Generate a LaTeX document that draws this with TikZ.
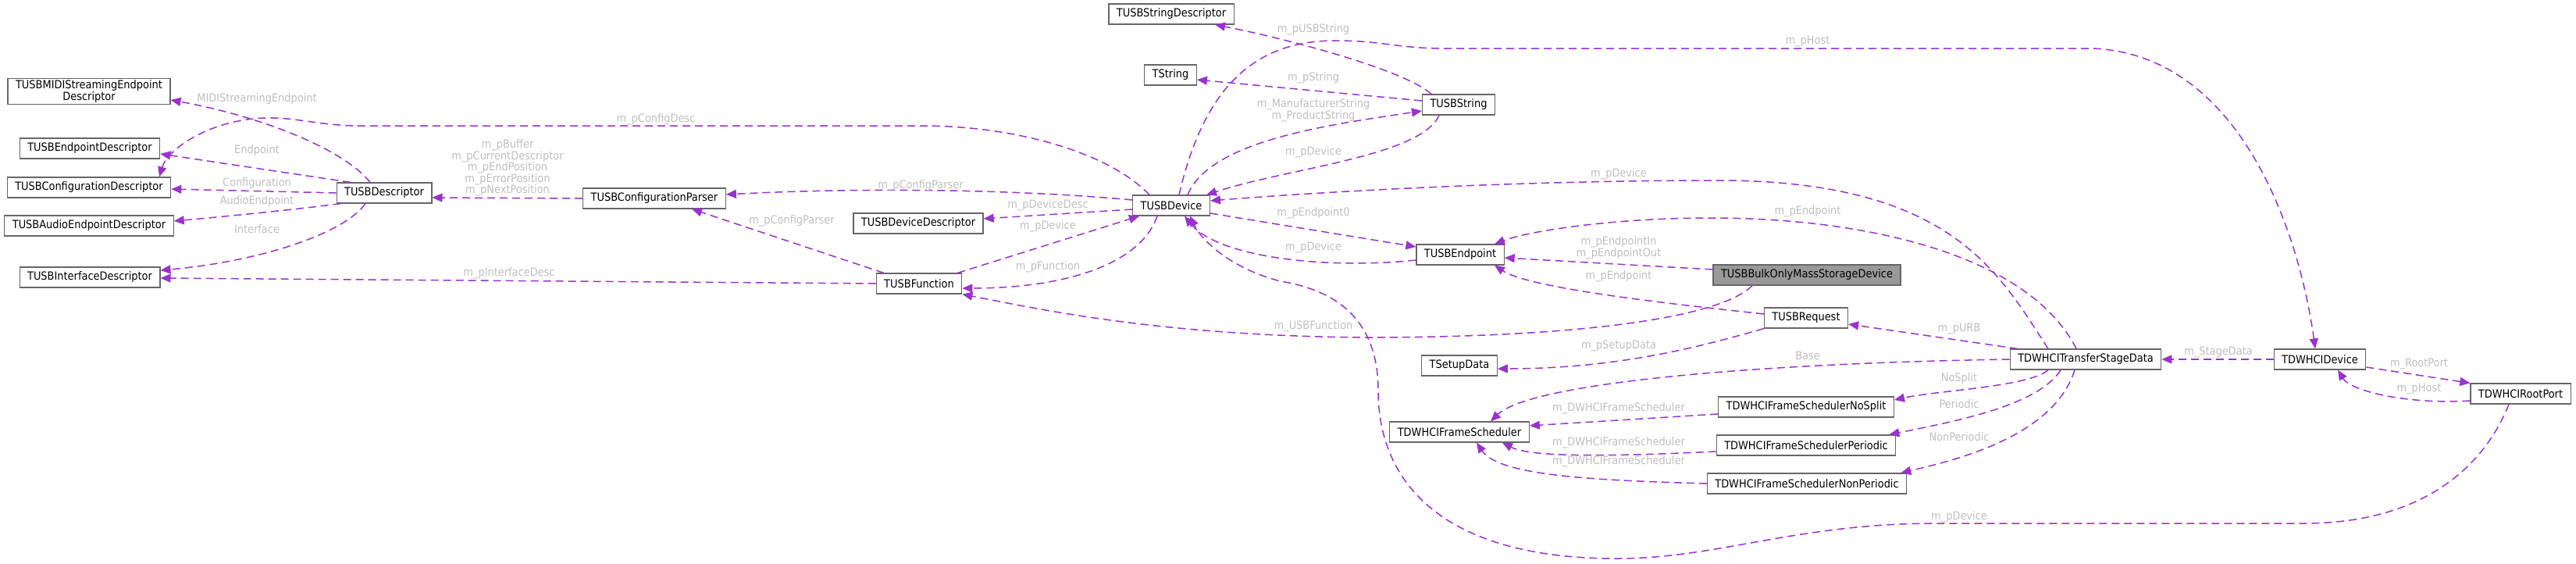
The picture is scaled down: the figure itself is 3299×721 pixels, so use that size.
\documentclass[tikz,border=0pt]{standalone}
\usepackage{fontspec}
\setmainfont{DejaVu Sans Condensed}
\usetikzlibrary{arrows.meta}
\definecolor{corchid}{HTML}{9A32CD}
\definecolor{cgrey}{HTML}{666666}
\definecolor{clabel}{HTML}{BEBEBE}
\definecolor{cfill}{HTML}{999999}
\tikzset{
  every picture/.style={font=\fontsize{14.4}{14.6}\selectfont},
  box/.style={draw=cgrey, fill=white, line width=1.2pt, align=center, inner xsep=10pt, inner ysep=2pt, minimum height=26pt},
  cur/.style={box, fill=cfill},
  arrow/.style={-{Triangle[length=13pt,width=11pt]}, draw=corchid, line width=1.5pt, dash pattern=on 10pt off 6pt},
  note/.style={text=clabel, align=center, inner sep=0pt},
}

\begin{document}
\begin{tikzpicture}[x=1pt, y=-1pt]
  \useasboundingbox (0,0) rectangle (3299,721);

  % descriptors
  \node[box] (midi) at (114,117) {TUSBMIDIStreamingEndpoint\\Descriptor};
  \node[box] (epdesc) at (115,190) {TUSBEndpointDescriptor};
  \node[box] (cfgdesc) at (114,240) {TUSBConfigurationDescriptor};
  \node[box] (audiodesc) at (114,289) {TUSBAudioEndpointDescriptor};
  \node[box] (ifdesc) at (115,355) {TUSBInterfaceDescriptor};
  \node[box] (desc) at (492,247) {TUSBDescriptor};
  \node[box] (parser) at (838,254) {TUSBConfigurationParser};

  % device side
  \node[box] (strdesc) at (1500,18) {TUSBStringDescriptor};
  \node[box] (tstring) at (1499,96) {TString};
  \node[box] (dev) at (1500,263) {TUSBDevice};
  \node[box] (devdesc) at (1176,286) {TUSBDeviceDescriptor};
  \node[box] (func) at (1177,363) {TUSBFunction};
  \node[box] (usbstr) at (1868,134) {TUSBString};
  \node[box] (ep) at (1870,326) {TUSBEndpoint};
  \node[cur] (bulk) at (2314,352) {TUSBBulkOnlyMassStorageDevice};
  \node[box] (req) at (2313,407) {TUSBRequest};
  \node[box] (setup) at (1869,468) {TSetupData};

  % host controller
  \node[box] (stage) at (2671,460) {TDWHCITransferStageData};
  \node[box] (hcidev) at (2971,460) {TDWHCIDevice};
  \node[box] (rootport) at (3228,504) {TDWHCIRootPort};
  \node[box] (sched) at (1869,553) {TDWHCIFrameScheduler};
  \node[box] (nosplit) at (2313,521) {TDWHCIFrameSchedulerNoSplit};
  \node[box] (periodic) at (2313,570) {TDWHCIFrameSchedulerPeriodic};
  \node[box] (nonper) at (2314,619) {TDWHCIFrameSchedulerNonPeriodic};

  % descriptor links
  \draw[arrow] ([xshift=-18pt]desc.north) .. controls (440,190) and (330,148) .. ([yshift=-11pt]midi.east);
  \draw[arrow] ([xshift=-43pt]desc.north) -- ([yshift=-7pt]epdesc.east);
  \draw[arrow] (desc.west) -- ([yshift=-2pt]cfgdesc.east);
  \draw[arrow] ([xshift=6pt]desc.south west) .. controls (380,268) and (300,276) .. ([yshift=6pt]audiodesc.east);
  \draw[arrow] ([xshift=-24pt]desc.south) .. controls (440,300) and (330,335) .. ([yshift=9pt]ifdesc.east);
  \draw[arrow] (parser.west) -- ([yshift=-6pt]desc.east);
  \draw[arrow] (func.west) -- ([yshift=-1pt]ifdesc.east);
  \draw[arrow] ([xshift=-28pt]dev.north) .. controls (1420,195) and (1300,161) .. (1180,161) -- (460,161) .. controls (410,161) and (380,150) .. (340,151) .. controls (270,153) and (215,190) .. ([xshift=90pt]cfgdesc.north);
  \node[note] (lmidi) at (329,127) {MIDIStreamingEndpoint};
  \node[note] (lep) at (329,193) {Endpoint};
  \node[note] (lcfg) at (329,235) {Configuration};
  \node[note] (laudio) at (329,258) {AudioEndpoint};
  \node[note] (lif) at (329,293) {Interface};
  \node[note] (lbuf) at (650,215) {m\_pBuffer\\m\_pCurrentDescriptor\\m\_pEndPosition\\m\_pErrorPosition\\m\_pNextPosition};
  \node[note] (lifdesc) at (652,350) {m\_pInterfaceDesc};
  \node[note] (lcfgdesc) at (840,153) {m\_pConfigDesc};

  % device links
  \draw[arrow] ([yshift=7pt]dev.west) .. controls (1300,242) and (1100,240) .. ([yshift=5pt]parser.east);
  \draw[arrow] ([yshift=-5pt]dev.west) -- ([yshift=6pt]devdesc.east);
  \draw[arrow] ([xshift=-6pt]func.north east) -- ([xshift=9pt]dev.south west);
  \draw[arrow] ([xshift=10pt]func.north west) -- ([xshift=48pt]parser.south);
  \draw[arrow] ([xshift=-18pt]dev.south) .. controls (1460,340) and (1360,369) .. ([yshift=-6pt]func.east);
  \draw[arrow] ([xshift=-70pt]bulk.south) .. controls (2200,410) and (2000,432) .. (1750,432) .. controls (1500,430) and (1350,400) .. (func.south east);
  \node[note] (lparser) at (1179,238) {m\_pConfigParser};
  \node[note] (ldevdesc) at (1342,263) {m\_pDeviceDesc};
  \node[note] (ldevf) at (1342,290) {m\_pDevice};
  \node[note] (lparserf) at (1014,283) {m\_pConfigParser};
  \node[note] (lfunc) at (1342,342) {m\_pFunction};
  \node[note] (lusbfunc) at (1682,418) {m\_USBFunction};

  % strings
  \draw[arrow] ([xshift=-35pt]usbstr.north) .. controls (1800,90) and (1650,50) .. ([xshift=56pt]strdesc.south);
  \draw[arrow] ([yshift=5pt]usbstr.west) -- ([yshift=-6pt]tstring.east);
  \draw[arrow] ([xshift=21pt]dev.north) .. controls (1550,180) and (1700,160) .. ([yshift=-8pt]usbstr.west);
  \draw[arrow] ([xshift=-25pt]usbstr.south) .. controls (1820,200) and (1650,215) .. ([xshift=45pt]dev.north);
  \draw[arrow] ([xshift=10pt]dev.north) .. controls (1540,120) and (1600,52) .. (1710,52) .. controls (1770,52) and (1790,62) .. (1850,62) -- (2680,62) .. controls (2870,70) and (2945,300) .. ([xshift=-6pt]hcidev.north);
  \node[note] (lusbstr) at (1682,38) {m\_pUSBString};
  \node[note] (lstr) at (1682,100) {m\_pString};
  \node[note] (lmanuf) at (1682,141) {m\_ManufacturerString\\m\_ProductString};
  \node[note] (ldevs) at (1682,195) {m\_pDevice};
  \node[note] (lhost) at (2315,53) {m\_pHost};

  % endpoints and requests
  \draw[arrow] ([yshift=-10pt]dev.east) -- ([yshift=10pt]ep.west);
  \draw[arrow] ([yshift=-7pt]ep.west) .. controls (1700,345) and (1560,330) .. ([xshift=17pt]dev.south);
  \draw[arrow] ([xshift=-48pt]stage.north) .. controls (2560,350) and (2500,231) .. (2200,231) .. controls (1950,231) and (1700,245) .. ([yshift=6pt]dev.east);
  \draw[arrow] ([xshift=-12pt]stage.north) .. controls (2600,330) and (2400,279) .. (2190,279) .. controls (2070,279) and (1960,295) .. ([xshift=44pt]ep.north);
  \draw[arrow] ([yshift=7pt]bulk.west) -- ([yshift=-4pt]ep.east);
  \draw[arrow] ([yshift=5pt]req.west) .. controls (2150,390) and (1960,370) .. ([xshift=44pt]ep.south);
  \draw[arrow] (req.south west) .. controls (2190,440) and (2080,472) .. ([yshift=-4pt]setup.east);
  \draw[arrow] ([xshift=10pt]stage.north west) -- ([yshift=-8pt]req.east);
  \node[note] (lep0) at (1682,273) {m\_pEndpoint0};
  \node[note] (ldeve) at (1682,317) {m\_pDevice};
  \node[note] (ldevt) at (2073,223) {m\_pDevice};
  \node[note] (lept) at (2315,271) {m\_pEndpoint};
  \node[note] (lepio) at (2073,317) {m\_pEndpointIn\\m\_pEndpointOut};
  \node[note] (lepr) at (2073,354) {m\_pEndpoint};
  \node[note] (lsetup) at (2073,443) {m\_pSetupData};
  \node[note] (lurb) at (2509,421) {m\_pURB};

  % schedulers
  \draw[arrow] (stage.west) .. controls (2250,465) and (1960,490) .. ([xshift=40pt]sched.north);
  \draw[arrow] ([xshift=-48pt]stage.south) .. controls (2600,495) and (2480,500) .. ([yshift=9pt]nosplit.east);
  \draw[arrow] ([xshift=-32pt]stage.south) .. controls (2610,520) and (2500,540) .. ([xshift=-9pt]periodic.north east);
  \draw[arrow] ([xshift=-14pt]stage.south) .. controls (2630,560) and (2500,590) .. ([xshift=-8pt]nonper.north east);
  \draw[arrow] ([yshift=-9pt]nosplit.west) -- ([yshift=8pt]sched.east);
  \draw[arrow] ([yshift=-8pt]periodic.west) .. controls (2050,585) and (1960,585) .. ([xshift=-35pt]sched.south east);
  \draw[arrow] (nonper.west) .. controls (2050,615) and (1920,610) .. ([xshift=22pt]sched.south);
  \node[note] (lbase) at (2315,455) {Base};
  \node[note] (lnosplit) at (2509,485) {NoSplit};
  \node[note] (lper) at (2509,517) {Periodic};
  \node[note] (lnonper) at (2509,559) {NonPeriodic};
  \node[note] (lsched1) at (2073,523) {m\_DWHCIFrameScheduler};
  \node[note] (lsched2) at (2073,567) {m\_DWHCIFrameScheduler};
  \node[note] (lsched3) at (2073,591) {m\_DWHCIFrameScheduler};

  % host device and root port
  \draw[arrow] (hcidev.west) -- (stage.east);
  \draw[arrow] ([yshift=-10pt]hcidev.east) -- (rootport.north west);
  \draw[arrow] ([yshift=-9pt]rootport.west) .. controls (3080,518) and (3010,500) .. ([xshift=23pt]hcidev.south);
  \draw[arrow] ([xshift=-15pt]rootport.south) .. controls (3180,600) and (3100,670) .. (2950,670) -- (2480,670) .. controls (2300,670) and (2200,715) .. (2070,715) .. controls (1850,715) and (1765,620) .. (1765,500) .. controls (1765,400) and (1700,370) .. (1640,360) .. controls (1580,345) and (1540,310) .. ([xshift=24pt]dev.south);
  \node[note] (lstage) at (2841,451) {m\_StageData};
  \node[note] (lroot) at (3098,466) {m\_RootPort};
  \node[note] (lhostr) at (3098,498) {m\_pHost};
  \node[note] (ldevr) at (2509,662) {m\_pDevice};
\end{tikzpicture}
\end{document}
